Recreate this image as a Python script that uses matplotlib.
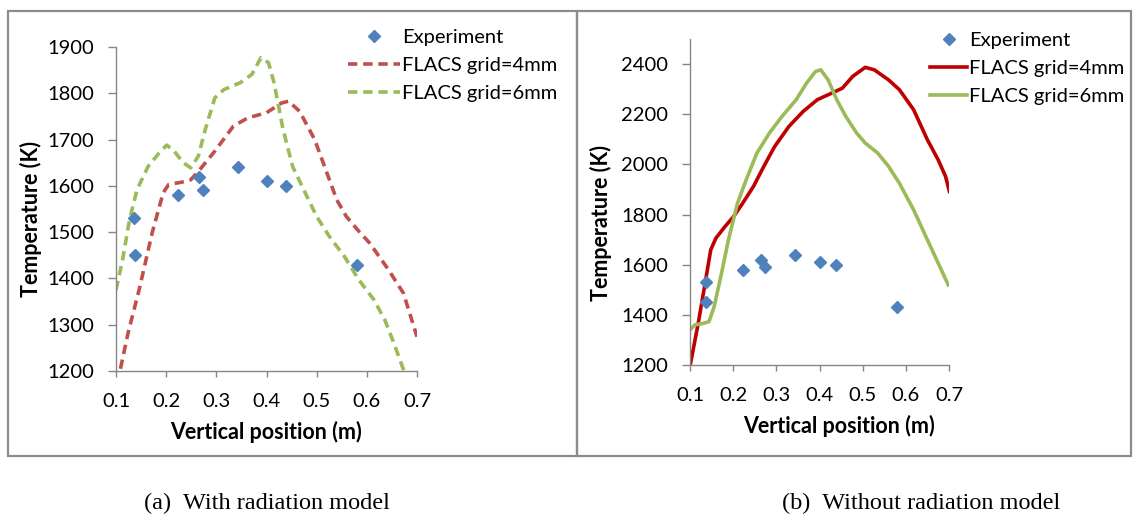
import matplotlib
matplotlib.use("Agg")
import matplotlib.pyplot as plt
from matplotlib.patches import Rectangle
from matplotlib.lines import Line2D

# ---------------- data ----------------
exp_x = [0.136, 0.137, 0.223, 0.265, 0.274, 0.343, 0.400, 0.439, 0.580]
exp_y = [1530, 1450, 1580, 1620, 1590, 1640, 1610, 1600, 1430]

# (a) with radiation model
a4_x = [0.100, 0.107, 0.124, 0.146, 0.172, 0.194, 0.205, 0.231, 0.249, 0.267, 0.297,
        0.334, 0.363, 0.400, 0.430, 0.444, 0.466, 0.496, 0.518, 0.540, 0.559, 0.584,
        0.606, 0.643, 0.673, 0.700]
a4_y = [1140, 1195, 1282, 1375, 1498, 1585, 1603, 1608, 1613, 1635, 1675,
        1729, 1747, 1758, 1779, 1783, 1761, 1700, 1635, 1570, 1534, 1502,
        1476, 1419, 1368, 1274]
a6_x = [0.100, 0.113, 0.127, 0.142, 0.164, 0.186, 0.201, 0.216, 0.234, 0.249, 0.264,
        0.278, 0.297, 0.315, 0.348, 0.371, 0.389, 0.404, 0.415, 0.433, 0.452, 0.474,
        0.500, 0.525, 0.555, 0.584, 0.614, 0.636, 0.654, 0.674, 0.685]
a6_y = [1375, 1440, 1527, 1592, 1642, 1671, 1688, 1675, 1650, 1639, 1664,
        1722, 1790, 1808, 1823, 1841, 1877, 1866, 1823, 1722, 1642, 1592,
        1534, 1491, 1448, 1397, 1354, 1310, 1260, 1200, 1150]

# (b) without radiation model
b4_x = [0.100, 0.119, 0.135, 0.148, 0.160, 0.181, 0.201, 0.222, 0.247, 0.271, 0.296,
        0.329, 0.362, 0.395, 0.428, 0.453, 0.477, 0.506, 0.527, 0.560, 0.585, 0.618,
        0.650, 0.675, 0.692, 0.702]
b4_y = [1195, 1366, 1526, 1659, 1706, 1752, 1792, 1845, 1912, 1992, 2071,
        2151, 2211, 2258, 2284, 2304, 2351, 2387, 2377, 2337, 2298, 2218,
        2098, 2018, 1952, 1885]
b6_x = [0.100, 0.111, 0.131, 0.144, 0.156, 0.173, 0.189, 0.210, 0.230, 0.255, 0.284,
        0.313, 0.346, 0.370, 0.391, 0.403, 0.420, 0.440, 0.461, 0.486, 0.506, 0.535,
        0.560, 0.585, 0.618, 0.650, 0.675, 0.700]
b6_y = [1340, 1360, 1366, 1373, 1433, 1566, 1699, 1845, 1938, 2045, 2125,
        2191, 2258, 2324, 2371, 2377, 2337, 2258, 2191, 2125, 2085, 2045,
        1992, 1925, 1819, 1699, 1606, 1513]

x_ticks = [0.1, 0.2, 0.3, 0.4, 0.5, 0.6, 0.7]
a_yticks = [1200, 1300, 1400, 1500, 1600, 1700, 1800, 1900]
b_yticks = [1200, 1400, 1600, 1800, 2000, 2200, 2400]
labels = ["Experiment", "FLACS grid=4mm", "FLACS grid=6mm"]
captions = ["(a)  With radiation model", "(b)  Without radiation model"]

# ---------------- style ----------------
W, H = 1133, 519
DPI = 100
BLUE = "#4F81BD"
RED_A = "#C0504D"
RED_B = "#C00000"
GREEN = "#9BBB59"
AXC = "#868686"
SANS = ["Lato", "DejaVu Sans"]
plt.rcParams["font.family"] = SANS

fig = plt.figure(figsize=(W / DPI, H / DPI), dpi=DPI)
fig.patch.set_facecolor("white")


def px_axes(x0, x1, ytop, ybot):
    return fig.add_axes([x0 / W, 1 - ybot / H, (x1 - x0) / W, (ybot - ytop) / H])


def style(ax, yticks, ylim):
    ax.set_xlim(0.1, 0.7)
    ax.set_ylim(*ylim)
    ax.set_xticks(x_ticks)
    ax.set_xticklabels([f"{v:.1f}" for v in x_ticks])
    ax.set_yticks(yticks)
    for s in ("top", "right"):
        ax.spines[s].set_visible(False)
    for s in ("left", "bottom"):
        ax.spines[s].set_color(AXC)
        ax.spines[s].set_linewidth(1.0)
    ax.tick_params(axis="both", direction="out", width=1.0, color=AXC,
                   labelsize=14.5, colors="black")
    ax.tick_params(axis="x", length=4.3, pad=11.5)
    ax.tick_params(axis="y", length=5.8, pad=10)
    ax.set_xlabel("Vertical position (m)", fontsize=15.5, fontweight="bold")
    ax.set_ylabel("Temperature (K)", fontsize=15.5, fontweight="bold")
    ax.patch.set_alpha(0)


# panel borders
for (x0, x1) in [(8, 577), (577, 1131)]:
    fig.patches.append(Rectangle((x0 / W, 1 - 456 / H), (x1 - x0) / W, (456 - 11) / H,
                                 transform=fig.transFigure, fill=False,
                                 edgecolor="#8C8C8C", linewidth=1.6))

DASH = (0, (2.6, 1.6))

# ---- panel (a)
axa = px_axes(116, 417, 47, 371)
style(axa, a_yticks, (1200, 1900))
axa.plot(a4_x, a4_y, color=RED_A, lw=2.6, ls=DASH, solid_joinstyle="round")
axa.plot(a6_x, a6_y, color=GREEN, lw=2.6, ls=DASH, solid_joinstyle="round")
axa.plot(exp_x, exp_y, ls="none", marker="D", ms=6.5, color=BLUE, mec=BLUE)
axa.xaxis.set_label_coords(0.498, -0.188)
axa.xaxis.label.set_verticalalignment("center")
axa.yaxis.set_label_coords(-0.282, 0.469)
axa.yaxis.label.set_verticalalignment("center")

# ---- panel (b)
axb = px_axes(690, 949, 39, 365)
style(axb, b_yticks, (1200, 2500))
axb.plot(b4_x, b4_y, color=RED_B, lw=2.6, solid_joinstyle="round", solid_capstyle="butt")
axb.plot(b6_x, b6_y, color=GREEN, lw=2.6, solid_joinstyle="round", solid_capstyle="butt")
axb.plot(exp_x, exp_y, ls="none", marker="D", ms=6.5, color=BLUE, mec=BLUE)
axb.xaxis.set_label_coords(0.575, -0.187)
axb.xaxis.label.set_verticalalignment("center")
axb.yaxis.set_label_coords(-0.344, 0.436)
axb.yaxis.label.set_verticalalignment("center")


# ---- legends
def legend(red, dashed, x0, ytop, hlen):
    ls = DASH if dashed else "-"
    handles = [
        Line2D([], [], ls="none", marker="D", ms=6.5, color=BLUE),
        Line2D([], [], color=red, lw=2.6, ls=ls),
        Line2D([], [], color=GREEN, lw=2.6, ls=ls),
    ]
    return fig.legend(handles, labels, loc="upper left",
                      bbox_to_anchor=(x0 / W, 1 - ytop / H),
                      frameon=False, fontsize=14.5, handlelength=hlen,
                      handletextpad=0.1, borderpad=0, borderaxespad=0,
                      labelspacing=0.55)


legend(RED_A, True, 348, 29, 2.6)
legend(RED_B, False, 930, 32, 1.85)

# ---- captions
for cx, txt in zip([267, 921], captions):
    fig.text(cx / W, 1 - 503 / H, txt, ha="center", va="center",
             fontsize=17.5, family=["Liberation Serif", "DejaVu Serif"])

fig.savefig("out.png", dpi=DPI, facecolor="white")
